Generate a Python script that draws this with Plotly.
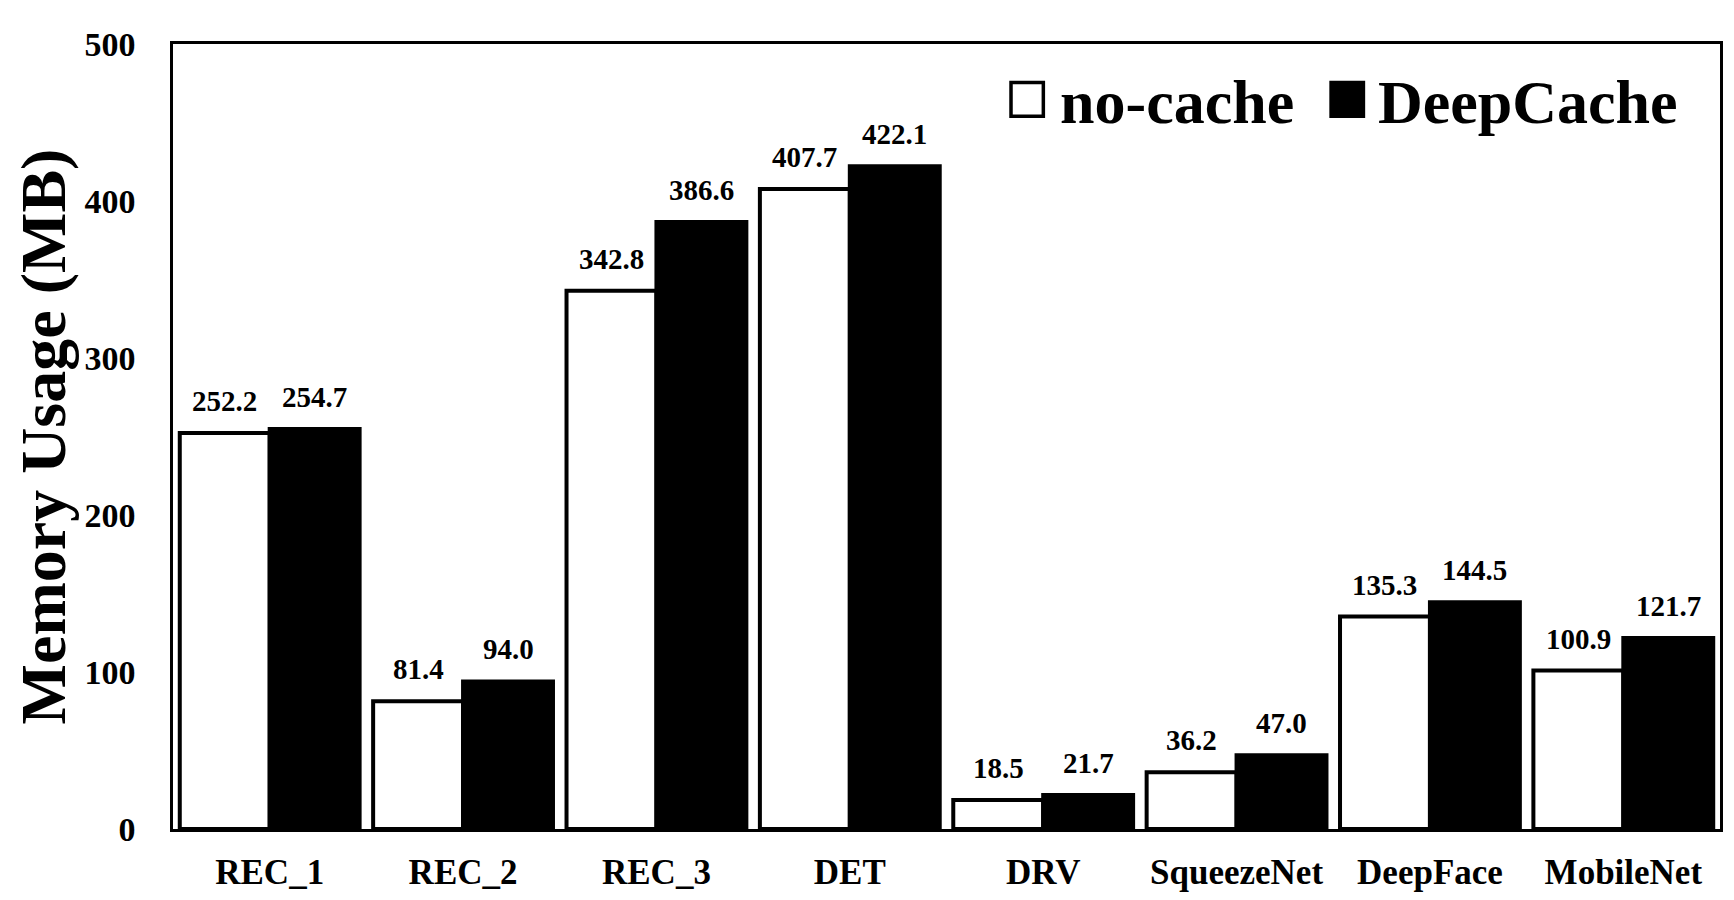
import plotly.graph_objects as go

# Memory usage of each model, MB
models = ['REC_1', 'REC_2', 'REC_3', 'DET', 'DRV', 'SqueezeNet', 'DeepFace', 'MobileNet']
no_cache = [252.2, 81.4, 342.8, 407.7, 18.5, 36.2, 135.3, 100.9]
deep_cache = [254.7, 94.0, 386.6, 422.1, 21.7, 47.0, 144.5, 121.7]
y_ticks = [0, 100, 200, 300, 400, 500]

FONT = 'Liberation Serif'
W, H = 1734, 900
MARGIN = dict(l=165, r=22, t=36, b=79)
BARGAP = 0.07

fig = go.Figure()
fig.add_trace(go.Bar(
    x=models, y=no_cache, name='no-cache',
    marker=dict(color='white', line=dict(color='black', width=4)),
    showlegend=False,
))
fig.add_trace(go.Bar(
    x=models, y=deep_cache, name='DeepCache',
    marker=dict(color='black', line=dict(color='black', width=4)),
    showlegend=False,
))

# value labels, lifted a bit higher above the bars than plotly's outside text
cat_w = (W - MARGIN['l'] - MARGIN['r']) / len(models)
offset = (1 - BARGAP) * cat_w / 4
for values, shift in [(no_cache, -offset), (deep_cache, offset)]:
    for m, v in zip(models, values):
        fig.add_annotation(x=m, y=v, xshift=shift, yshift=14,
                           xanchor='center', yanchor='bottom', showarrow=False,
                           text=f'{v:.1f}',
                           font=dict(family=FONT, size=29, color='black', weight='bold'))

# legend drawn by hand so the boxes can be as large as in the original
legend_items = [('no-cache', 'white', 0.5417, 0.5721), ('DeepCache', 'black', 0.7486, 0.7776)]
for label, color, box_x, text_x in legend_items:
    fig.add_shape(type='rect', xref='paper', yref='paper',
                  x0=box_x, x1=box_x + 0.0209, y0=0.908, y1=0.951,
                  fillcolor=color, line=dict(color='black', width=3.5))
    fig.add_annotation(xref='paper', yref='paper', x=text_x, y=0.926,
                       xanchor='left', yanchor='middle', showarrow=False,
                       text=label,
                       font=dict(family=FONT, size=62, color='black', weight='bold'))

fig.update_layout(
    width=W, height=H,
    margin=MARGIN,
    paper_bgcolor='white', plot_bgcolor='white',
    barmode='group', bargap=BARGAP, bargroupgap=0,
    font=dict(family=FONT, color='black'),
)
fig.update_xaxes(
    showline=True, linecolor='black', linewidth=2.5, mirror=True,
    ticks='', ticklabelstandoff=10, showgrid=False,
    tickfont=dict(family=FONT, size=35, color='black', weight='bold'),
)
fig.update_yaxes(
    range=[0, 500], tickvals=y_ticks, showline=True, linecolor='black',
    linewidth=2.5, mirror=True, ticks='', ticklabelstandoff=28,
    showgrid=False, zeroline=False,
    tickfont=dict(family=FONT, size=34, color='black', weight='bold'),
    title=dict(text='Memory Usage (MB)', standoff=21,
               font=dict(family=FONT, size=64, color='black', weight='bold')),
)

fig.write_html('out.html')
